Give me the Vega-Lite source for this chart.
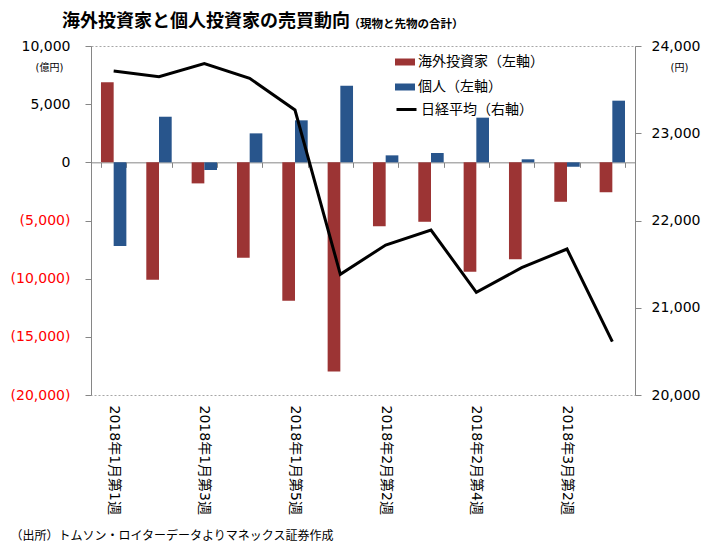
{
  "$schema": "https://vega.github.io/schema/vega-lite/v6.json",
  "width": 544,
  "height": 349,
  "autosize": "none",
  "padding": {"left": 91, "top": 46, "right": 85, "bottom": 162},
  "background": "white",
  "config": {
    "font": "DejaVu Sans, Noto Sans CJK JP",
    "view": {"stroke": "#A6A6A6", "strokeDash": [2, 2]}
  },
  "title": {
    "text": "海外投資家と個人投資家の売買動向",
    "anchor": "start",
    "align": "left",
    "frame": "group",
    "dx": -29,
    "dy": 19,
    "offset": 6,
    "font": "Noto Sans CJK JP",
    "fontSize": 18,
    "fontWeight": "bold",
    "color": "#000000"
  },
  "datasets": {
    "bars": [
      {"week": "2018年1月第1週", "series": "海外投資家（左軸）", "value": 6880},
      {"week": "2018年1月第1週", "series": "個人（左軸）", "value": -7190},
      {"week": "2018年1月第2週", "series": "海外投資家（左軸）", "value": -10090},
      {"week": "2018年1月第2週", "series": "個人（左軸）", "value": 3920},
      {"week": "2018年1月第3週", "series": "海外投資家（左軸）", "value": -1810},
      {"week": "2018年1月第3週", "series": "個人（左軸）", "value": -660},
      {"week": "2018年1月第4週", "series": "海外投資家（左軸）", "value": -8200},
      {"week": "2018年1月第4週", "series": "個人（左軸）", "value": 2490},
      {"week": "2018年1月第5週", "series": "海外投資家（左軸）", "value": -11900},
      {"week": "2018年1月第5週", "series": "個人（左軸）", "value": 3610},
      {"week": "2018年2月第1週", "series": "海外投資家（左軸）", "value": -17970},
      {"week": "2018年2月第1週", "series": "個人（左軸）", "value": 6590},
      {"week": "2018年2月第2週", "series": "海外投資家（左軸）", "value": -5500},
      {"week": "2018年2月第2週", "series": "個人（左軸）", "value": 600},
      {"week": "2018年2月第3週", "series": "海外投資家（左軸）", "value": -5110},
      {"week": "2018年2月第3週", "series": "個人（左軸）", "value": 800},
      {"week": "2018年2月第4週", "series": "海外投資家（左軸）", "value": -9410},
      {"week": "2018年2月第4週", "series": "個人（左軸）", "value": 3840},
      {"week": "2018年3月第1週", "series": "海外投資家（左軸）", "value": -8340},
      {"week": "2018年3月第1週", "series": "個人（左軸）", "value": 260},
      {"week": "2018年3月第2週", "series": "海外投資家（左軸）", "value": -3390},
      {"week": "2018年3月第2週", "series": "個人（左軸）", "value": -380},
      {"week": "2018年3月第3週", "series": "海外投資家（左軸）", "value": -2580},
      {"week": "2018年3月第3週", "series": "個人（左軸）", "value": 5300}
    ],
    "nikkei": [
      {"week": "2018年1月第1週", "nikkei": 23713},
      {"week": "2018年1月第2週", "nikkei": 23648},
      {"week": "2018年1月第3週", "nikkei": 23800},
      {"week": "2018年1月第4週", "nikkei": 23630},
      {"week": "2018年1月第5週", "nikkei": 23266},
      {"week": "2018年2月第1週", "nikkei": 21383},
      {"week": "2018年2月第2週", "nikkei": 21719},
      {"week": "2018年2月第3週", "nikkei": 21891},
      {"week": "2018年2月第4週", "nikkei": 21177},
      {"week": "2018年3月第1週", "nikkei": 21459},
      {"week": "2018年3月第2週", "nikkei": 21673},
      {"week": "2018年3月第3週", "nikkei": 20611}
    ]
  },
  "layer": [
    {
      "data": {"name": "bars"},
      "mark": {"type": "bar"},
      "encoding": {
        "x": {
          "field": "week",
          "type": "nominal",
          "sort": ["2018年1月第1週","2018年1月第2週","2018年1月第3週","2018年1月第4週","2018年1月第5週","2018年2月第1週","2018年2月第2週","2018年2月第3週","2018年2月第4週","2018年3月第1週","2018年3月第2週","2018年3月第3週"],
          "scale": {"paddingInner": 0.44, "paddingOuter": 0.22},
          "axis": {
            "orient": "bottom",
            "domain": false,
            "ticks": false,
            "values": ["2018年1月第1週","2018年1月第3週","2018年1月第5週","2018年2月第2週","2018年2月第4週","2018年3月第2週"],
            "labelAngle": 90,
            "labelAlign": "left",
            "labelBaseline": "middle",
            "labelPadding": 10,
            "labelFontSize": 14,
            "labelColor": "#000000",
            "labelLimit": 0,
            "title": "（出所）トムソン・ロイターデータよりマネックス証券作成",
            "titleX": -81,
            "titleY": 140,
            "titleAlign": "left",
            "titleBaseline": "middle",
            "titleFont": "Noto Sans CJK JP",
            "titleFontSize": 12,
            "titleFontWeight": "normal",
            "titleColor": "#000000"
          }
        },
        "xOffset": {
          "field": "series",
          "type": "nominal",
          "sort": ["海外投資家（左軸）", "個人（左軸）"],
          "scale": {"paddingInner": 0, "paddingOuter": 0}
        },
        "y": {
          "field": "value",
          "type": "quantitative",
          "scale": {"domain": [-20000, 10000], "nice": false},
          "axis": {
            "orient": "left",
            "values": [-20000, -15000, -10000, -5000, 0, 5000, 10000],
            "labelExpr": "datum.value < 0 ? '(' + format(-datum.value, ',') + ')' : format(datum.value, ',')",
            "labelColor": {"condition": {"test": "datum.value < 0", "value": "#FF0000"}, "value": "#000000"},
            "labelFontSize": 14,
            "labelPadding": 15,
            "tickSize": 6,
            "tickColor": "#868686",
            "domainColor": "#868686",
            "grid": false,
            "title": "(億円)",
            "titleAngle": 0,
            "titleX": -42,
            "titleY": 21,
            "titleAlign": "center",
            "titleBaseline": "middle",
            "titleFontSize": 10,
            "titleFontWeight": "normal",
            "titleColor": "#000000"
          }
        },
        "fill": {
          "field": "series",
          "type": "nominal",
          "sort": ["海外投資家（左軸）", "個人（左軸）"],
          "scale": {"domain": ["海外投資家（左軸）", "個人（左軸）"], "range": ["#9C3434", "#28558C"]},
          "legend": {
            "orient": "none",
            "legendX": 304,
            "legendY": 6,
            "title": null,
            "symbolType": "M-1,-0.35H1V0.35H-1Z",
            "symbolSize": 400,
            "symbolStrokeWidth": 0,
            "labelFontSize": 14,
            "labelOffset": 3,
            "labelColor": "#000000",
            "labelLimit": 0,
            "rowPadding": 8
          }
        }
      }
    },
    {
      "data": {"name": "nikkei"},
      "mark": {"type": "line", "strokeWidth": 3},
      "encoding": {
        "x": {
          "field": "week",
          "type": "nominal",
          "sort": ["2018年1月第1週","2018年1月第2週","2018年1月第3週","2018年1月第4週","2018年1月第5週","2018年2月第1週","2018年2月第2週","2018年2月第3週","2018年2月第4週","2018年3月第1週","2018年3月第2週","2018年3月第3週"],
          "axis": {
            "orient": "bottom",
            "offset": -232.67,
            "labels": false,
            "domain": true,
            "domainColor": "#868686",
            "ticks": true,
            "tickColor": "#868686",
            "tickSize": 5,
            "tickBand": "extent",
            "title": "（現物と先物の合計）",
            "titleX": 257,
            "titleY": -138,
            "titleAlign": "left",
            "titleBaseline": "middle",
            "titleFont": "Noto Sans CJK JP",
            "titleFontSize": 11.5,
            "titleFontWeight": "bold",
            "titleColor": "#000000"
          }
        },
        "y": {
          "field": "nikkei",
          "type": "quantitative",
          "scale": {"domain": [20000, 24000], "nice": false},
          "axis": {
            "orient": "right",
            "values": [20000, 21000, 22000, 23000, 24000],
            "labelExpr": "format(datum.value, ',')",
            "labelFontSize": 14,
            "labelPadding": 10,
            "labelColor": "#000000",
            "tickSize": 6,
            "tickColor": "#868686",
            "domainColor": "#868686",
            "grid": false,
            "title": "(円)",
            "titleAngle": 0,
            "titleX": 44,
            "titleY": 21,
            "titleAlign": "center",
            "titleBaseline": "middle",
            "titleFontSize": 10,
            "titleFontWeight": "normal",
            "titleColor": "#000000"
          }
        },
        "stroke": {
          "datum": "日経平均（右軸）",
          "type": "nominal",
          "scale": {"range": ["#000000"]},
          "legend": {
            "orient": "none",
            "legendX": 304,
            "legendY": 52,
            "title": null,
            "symbolType": "stroke",
            "symbolSize": 400,
            "symbolStrokeWidth": 3,
            "labelFontSize": 14,
            "labelOffset": 3,
            "labelColor": "#000000",
            "labelLimit": 0
          }
        }
      }
    }
  ],
  "resolve": {"scale": {"y": "independent"}, "axis": {"x": "independent"}}
}
